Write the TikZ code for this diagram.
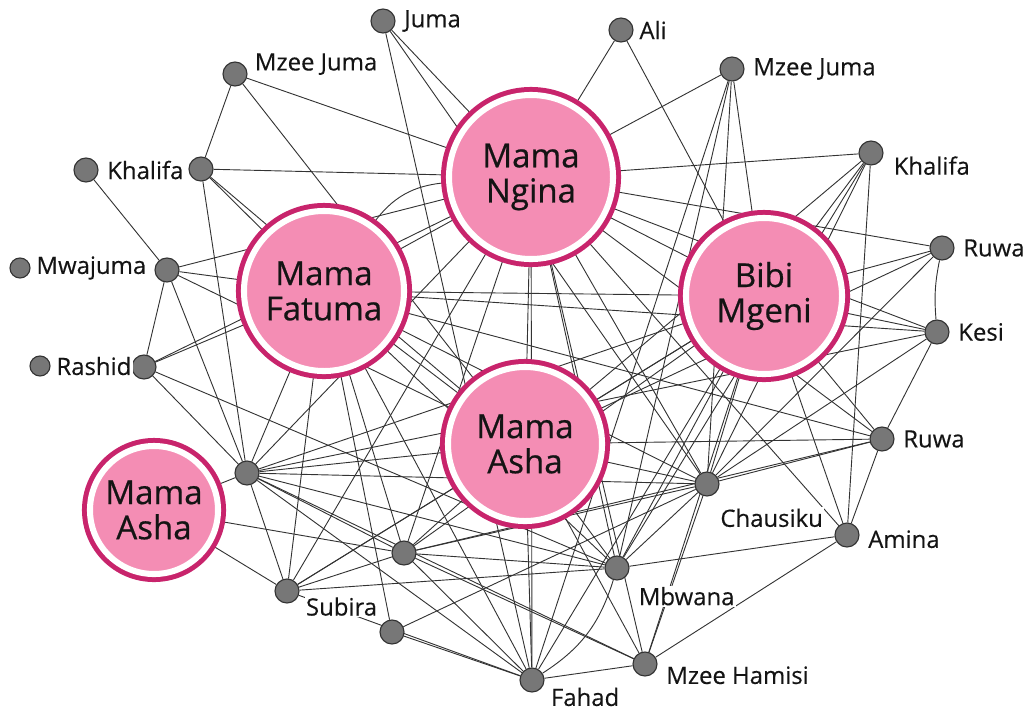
\documentclass[tikz,border=0pt]{standalone}
\usepackage{fontspec}
\setmainfont{Open Sans}
\newfontfamily\hubfont{Open Sans}[FakeBold=0.6]
\newfontfamily\tagfont{Open Sans}[FakeBold=0.3]
\usetikzlibrary{positioning,backgrounds}
\definecolor{hubpink}{HTML}{F48DB4}
\definecolor{hubring}{HTML}{C8246C}
\definecolor{dotgrey}{HTML}{777777}
\definecolor{linkgrey}{HTML}{333333}
\tikzset{
  hub/.style={circle, fill=hubpink, draw=white, line width=4.3pt,
    preaction={draw=hubring, line width=11.4pt},
    align=center, text=black!92, inner sep=0pt,
    font=\hubfont\fontsize{23.5}{25}\selectfont},
  person/.style={circle, fill=dotgrey, draw=black!80, line width=0.8pt,
    minimum size=0.6cm, inner sep=0pt},
  loner/.style={person, minimum size=0.5cm},
  lbl/.style={font=\tagfont\fontsize{17}{19}\selectfont, inner sep=1pt,
    fill=white, text=black!92},
  link/.style={linkgrey, line width=0.65pt},
}

\begin{document}
\begin{tikzpicture}[x=0.025cm, y=-0.025cm]
  \useasboundingbox (0,0) rectangle (1031,712);

  % the five women in the middle
  \node[hub, minimum size=4.1cm]  (ngina)  at (531,177) {Mama\\Ngina};
  \node[hub, minimum size=4.0cm]  (fatuma) at (324,291) {Mama\\Fatuma};
  \node[hub, minimum size=3.9cm]  (mgeni)  at (764,296) {Bibi\\Mgeni};
  \node[hub, minimum size=3.85cm] (ashaC)  at (525,444) {Mama\\Asha};
  \node[hub, minimum size=3.2cm]  (ashaL)  at (154,510) {Mama\\Asha};

  % everybody else
  \node[person] (juma)   at (383,21)  {};
  \node[person] (mzeeL)  at (235,74)  {};
  \node[person] (khalO)  at (86,170)  {};
  \node[person] (khalI)  at (201,169) {};
  \node[loner]  (mwaO)   at (20,268)  {};
  \node[person] (mwaI)   at (167,270) {};
  \node[loner]  (rashO)  at (40,366)  {};
  \node[person] (rashI)  at (144,367) {};
  \node[person] (ali)    at (621,30)  {};
  \node[person] (mzeeR)  at (732,69)  {};
  \node[person] (khalR)  at (871,153) {};
  \node[person] (ruwaT)  at (942,248) {};
  \node[person] (kesi)   at (937,332) {};
  \node[person] (ruwaB)  at (882,439) {};
  \node[person] (amina)  at (847,535) {};
  \node[person] (chaus)  at (707,484) {};
  \node[person] (mbwana) at (617,568) {};
  \node[person] (hamisi) at (645,664) {};
  \node[person] (fahad)  at (532,680) {};
  \node[person] (nA)     at (392,632) {};
  \node[person] (subira) at (287,591) {};
  \node[person] (nB)     at (404,553) {};
  \node[person] (nC)     at (247,473) {};

  % names
  \node[lbl, right=5pt of juma]                (juma-t)   {Juma};
  \node[lbl, right=4pt of mzeeL, yshift=7pt]   (mzeeL-t)  {Mzee Juma};
  \node[lbl, right=5pt of khalO]               (khalO-t)  {Khalifa};
  \node[lbl, right=3pt of mwaO]                (mwaO-t)   {Mwajuma};
  \node[lbl, right=3pt of rashO]               (rashO-t)  {Rashid};
  \node[lbl, right=3pt of ali]                 (ali-t)    {Ali};
  \node[lbl, right=5pt of mzeeR]               (mzeeR-t)  {Mzee Juma};
  \node[lbl, right=6pt of khalR, yshift=-9pt]  (khalR-t)  {Khalifa};
  \node[lbl, right=5pt of ruwaT]               (ruwaT-t)  {Ruwa};
  \node[lbl, right=5pt of kesi]                (kesi-t)   {Kesi};
  \node[lbl, right=5pt of ruwaB]               (ruwaB-t)  {Ruwa};
  \node[lbl, right=5pt of amina, yshift=-3pt]  (amina-t)  {Amina};
  \node[lbl, below right=10pt and 2pt of chaus]  (chaus-t)  {Chausiku};
  \node[lbl, below right=6pt and 8pt of mbwana]  (mbwana-t) {Mbwana};
  \node[lbl, right=5pt of hamisi, yshift=-8pt] (hamisi-t) {Mzee Hamisi};
  \node[lbl, below right=-2pt and 6pt of fahad]  (fahad-t)  {Fahad};
  \node[lbl, below right=-3pt and 6pt of subira] (subira-t) {Subira};

  % ties, kept behind the circles and names
  \begin{pgfonlayer}{background}
    \foreach \a/\b in {ngina/juma, ngina/mzeeL, ngina/khalI, ngina/ali, ngina/mzeeR,
        ngina/khalR, ngina/mgeni, ngina/ashaC, ngina/chaus, ngina/mbwana, ngina/fahad,
        ngina/nB, ngina/nC, ngina/subira, ngina/ruwaB, ngina/kesi, ngina/ruwaT,
        ngina/amina, ngina/mwaI, ngina/rashI, ngina/hamisi, fatuma/ngina,
        fatuma/mgeni, fatuma/ashaC, fatuma/chaus, fatuma/mbwana, fatuma/nB,
        fatuma/fahad, fatuma/subira, fatuma/nC, fatuma/rashI, fatuma/mwaI,
        fatuma/khalI, fatuma/ruwaB, fatuma/kesi, fatuma/nA,
        mgeni/ali, mgeni/mzeeR, mgeni/khalR, mgeni/ruwaT, mgeni/kesi, mgeni/ruwaB,
        mgeni/amina, mgeni/chaus, mgeni/mbwana, mgeni/fahad, mgeni/nB, mgeni/subira,
        mgeni/hamisi, mgeni/nC, mgeni/ashaC,
        ashaC/mzeeL, ashaC/khalI, ashaC/mwaI, ashaC/chaus, ashaC/mbwana, ashaC/ruwaB,
        ashaC/ruwaT, ashaC/nB, ashaC/nC, ashaC/fahad, ashaC/hamisi, ashaC/subira,
        ashaC/khalR, ashaL/nC, ashaL/subira, ashaL/nB,
        nC/khalI, nC/mwaI, nC/rashI, nC/subira, nC/nB, nC/mbwana, nC/hamisi,
        nC/fahad, nC/kesi, nC/chaus,
        nB/fahad, nB/hamisi, nB/mbwana, nB/chaus, nB/ruwaB, nB/subira,
        subira/fahad, subira/mbwana, nA/fahad, nA/chaus,
        fahad/hamisi, fahad/juma, fahad/mzeeR,
        mbwana/chaus, mbwana/amina, mbwana/rashI, mbwana/khalR, mbwana/mzeeR,
        chaus/ruwaB, chaus/ruwaT, chaus/khalR, chaus/mzeeR, chaus/hamisi, chaus/kesi,
        chaus/juma, amina/ruwaB, amina/hamisi, amina/khalR, ruwaB/kesi,
        mzeeL/khalI, khalO/mwaI, mwaI/rashI}
      \draw[link] (\a) -- (\b);
    \draw[link] (fatuma) to[bend left=25] (ngina);
    \draw[link] (mbwana) to[bend left=20] (fahad);
    \draw[link] (kesi) to[bend left=8] (ruwaT);
  \end{pgfonlayer}
\end{tikzpicture}
\end{document}
